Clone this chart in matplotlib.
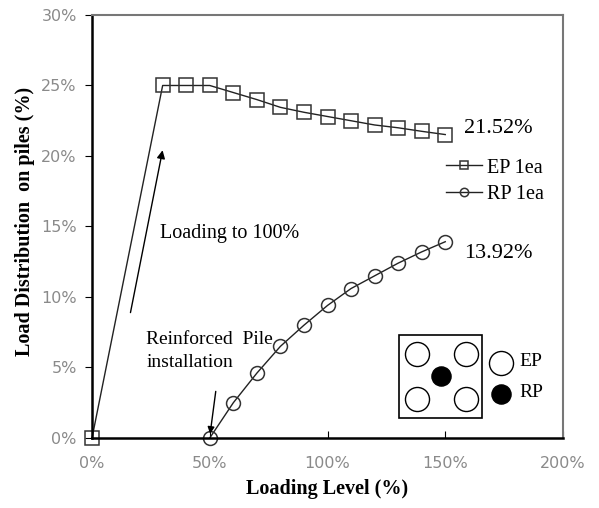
import matplotlib.pyplot as plt
from matplotlib.patches import Rectangle
from matplotlib.ticker import FuncFormatter

plt.rcParams['font.family'] = ['Liberation Serif', 'DejaVu Serif']

# loading level (%) and load share per pile (%)
ep_load = [0, 30, 40, 50, 60, 70, 80, 90, 100, 110, 120, 130, 140, 150]
ep_share = [0, 25.0, 25.0, 25.0, 24.5, 24.0, 23.45, 23.1, 22.8, 22.5, 22.2, 22.0, 21.75, 21.52]
rp_load = [50, 60, 70, 80, 90, 100, 110, 120, 130, 140, 150]
rp_share = [0, 2.5, 4.6, 6.5, 8.0, 9.4, 10.6, 11.5, 12.4, 13.2, 13.92]

x_ticks = [0, 50, 100, 150, 200]
y_ticks = [0, 5, 10, 15, 20, 25, 30]

fig = plt.figure(figsize=(5.99, 5.08), dpi=100)
ax = fig.add_axes([0.1536, 0.1378, 0.7863, 0.8327])

ax.plot(ep_load, ep_share, '-', color='#222222', lw=1.0, marker='s', ms=10,
        mfc='none', mec='#333333', mew=1.1, label='EP 1ea', clip_on=False)
ax.plot(rp_load, rp_share, '-', color='#222222', lw=1.0, marker='o', ms=10,
        mfc='none', mec='#333333', mew=1.1, label='RP 1ea', clip_on=False)

ax.set_xlim(0, 200)
ax.set_ylim(0, 30)
ax.set_xticks(x_ticks)
ax.set_yticks(y_ticks)
pct = FuncFormatter(lambda v, p: f'{v:.0f}%')
ax.xaxis.set_major_formatter(pct)
ax.yaxis.set_major_formatter(pct)
for lab in ax.get_xticklabels() + ax.get_yticklabels():
    lab.set_family('DejaVu Sans')
ax.tick_params(axis='x', direction='in', length=5, labelsize=11.5, labelcolor='#8a8a8a', pad=13)
ax.tick_params(axis='y', direction='out', length=5, labelsize=11.5, labelcolor='#8a8a8a', pad=6)

for side in ('left', 'bottom'):
    ax.spines[side].set_color('black')
    ax.spines[side].set_linewidth(1.8)
for side in ('top', 'right'):
    ax.spines[side].set_color('#777777')
    ax.spines[side].set_linewidth(1.5)

ax.set_xlabel('Loading Level (%)', fontsize=14.5, fontweight='bold', labelpad=6)
ax.set_ylabel('Load Distribution  on piles (%)', fontsize=14.5, fontweight='bold')
ax.yaxis.set_label_coords(-0.122, 0.513)

# end values
ax.text(158, ep_share[-1] + 0.4, f'{ep_share[-1]:.2f}%', fontsize=16, va='center')
ax.text(158, rp_share[-1] - 0.8, f'{rp_share[-1]:.2f}%', fontsize=16, va='center')

ax.legend(loc='upper left', bbox_to_anchor=(0.735, 0.68), frameon=False,
          fontsize=14.5, handlelength=1.8, handletextpad=0.2, labelspacing=0.35,
          borderaxespad=0, markerscale=0.6)

# annotations
ax.annotate('', xy=(30.2, 20.6), xytext=(16.1, 8.7),
            arrowprops=dict(arrowstyle='-|>', color='black', lw=1.0, mutation_scale=12))
ax.text(29, 14.5, 'Loading to 100%', fontsize=14.5, va='center')
ax.annotate('', xy=(50, 0.1), xytext=(52.7, 3.5),
            arrowprops=dict(arrowstyle='-|>', color='black', lw=1.0, mutation_scale=10))
ax.text(23, 6.17, 'Reinforced  Pile\ninstallation', fontsize=14, va='center', linespacing=1.5)

# pile layout sketch
ax.add_patch(Rectangle((130.4, 1.42), 35.2, 5.9, fill=False, ec='black', lw=1.2))
ax.scatter([138, 158.8, 138, 158.8], [5.96, 5.96, 2.77, 2.77], s=300,
           facecolors='white', edgecolors='black', linewidths=1.0, zorder=3)
ax.scatter([148.2], [4.4], s=190, c='black', zorder=3)
ax.scatter([173.7], [5.32], s=300, facecolors='white', edgecolors='black',
           linewidths=1.0, zorder=3)
ax.scatter([173.7], [3.12], s=190, c='black', zorder=3)
ax.text(181.5, 5.4, 'EP', fontsize=14, va='center')
ax.text(181.5, 3.2, 'RP', fontsize=14, va='center')

fig.savefig('out.png', dpi=100)
